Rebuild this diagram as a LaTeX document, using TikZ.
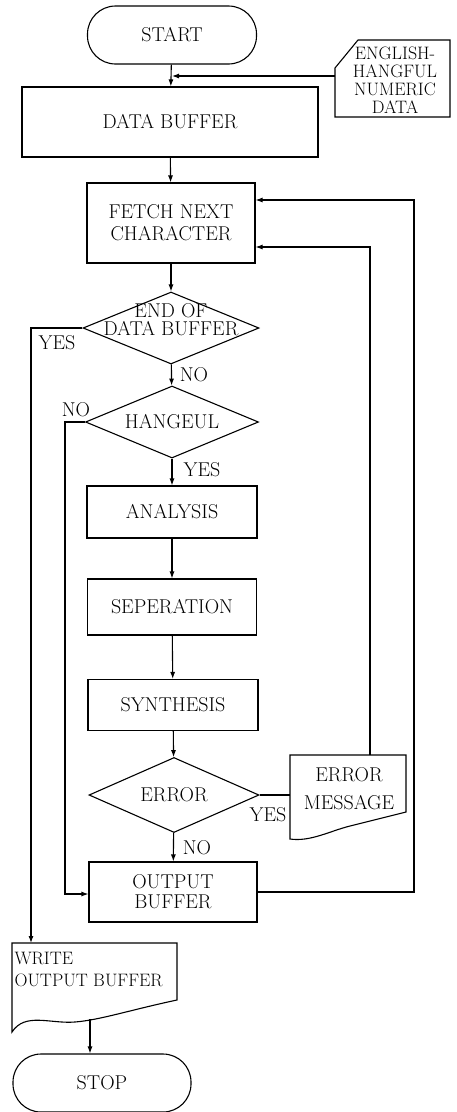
\documentclass[tikz,border=0pt]{standalone}
\usepackage{tikz}
\usetikzlibrary{shapes.geometric, arrows.meta}

\tikzset{
    procbox/.style={draw, rectangle, align=center, inner sep=0pt},
    termbox/.style={draw, rectangle, rounded corners=28pt, minimum width=#1, minimum height=58pt},
    decide/.style={draw, diamond, aspect=2.4, inner sep=0pt, minimum width=#1, minimum height=72pt},
    lbl/.style={inner sep=0pt}
}

\begin{document}
\begin{tikzpicture}[x=1pt, y=-1pt, >={Latex[length=7pt,width=5pt]}, line width=1.1pt, font=\fontsize{20}{22}\selectfont]
        \useasboundingbox (0,0) rectangle (456,1112);

        % main column
        \node [termbox=169pt] (start) at (172,35) {START};
        \node [procbox, minimum width=296pt, minimum height=70pt] (databuf) at (170,122) {DATA BUFFER};
        \node [procbox, minimum width=168pt, minimum height=80pt] (fetch) at (171,223) {FETCH NEXT\\CHARACTER};
        \node [decide=176pt] (eod) at (171,328) {};
        \node [lbl, align=center, font=\fontsize{20}{18}\selectfont] (eodtext) at (171,320) {END OF\\DATA BUFFER};
        \node [decide=173pt] (hangeul) at (172,422) {HANGEUL};
        \node [procbox, minimum width=170pt, minimum height=52pt] (analysis) at (172,512) {ANALYSIS};
        \node [procbox, minimum width=169pt, minimum height=56pt] (seperation) at (172,607) {SEPERATION};
        \node [procbox, minimum width=170pt, minimum height=51pt] (synthesis) at (173,705) {SYNTHESIS};
        \node [decide=170pt, minimum height=75pt] (error) at (174,795) {ERROR};
        \node [procbox, minimum width=168pt, minimum height=60pt, font=\fontsize{20}{20}\selectfont] (output) at (173,892) {OUTPUT\\BUFFER};
        \node [termbox=178pt] (stop) at (102,1083) {STOP};

        % input card
        \draw (358,40) -- (450,40) -- (450,117) -- (335,117) -- (335,68) -- cycle;
        \node [lbl, align=center, font=\fontsize{18}{18}\selectfont] (card) at (395,80) {ENGLISH-\\HANGFUL\\NUMERIC\\DATA};
        \coordinate (cardin) at (335,76);

        % error message document
        \draw (290,755) -- (406,755) -- (406,812)
            .. controls (390,816) and (370,821) .. (350,826)
            .. controls (330,831) and (310,842) .. (290,839) -- cycle;
        \node [lbl, align=center, font=\fontsize{20}{28}\selectfont] (errmsg) at (349,789) {ERROR\\MESSAGE};
        \coordinate (errin) at (290,795);
        \coordinate (errtop) at (370,755);

        % write output document
        \draw (12,943) -- (177,943) -- (177,1000)
            .. controls (130,1010) and (100,1020) .. (75,1022)
            .. controls (50,1024) and (25,1012) .. (12,1032) -- cycle;
        \node [lbl, align=left, anchor=north west, font=\fontsize{18}{22}\selectfont] (write) at (14,952) {WRITE\\OUTPUT BUFFER};
        \coordinate (writetop) at (31,943);
        \coordinate (wout) at (90,1019);

        % flow
        \draw [->] (start) -- (databuf);
        \draw [->] (cardin) -- (cardin -| start.south);
        \draw [->] (databuf) -- (fetch);
        \draw [->] (fetch) -- (eod);
        \draw [->] (eod) -- (hangeul);
        \draw [->] (hangeul) -- (analysis);
        \draw [->] (analysis) -- (seperation);
        \draw [->] (seperation) -- (synthesis);
        \draw [->] (synthesis) -- (error);
        \draw [->] (error) -- (output);
        \draw (error.east) -- (errin);
        \draw [->] (wout) -- (wout |- stop.north);

        % side branches
        \draw [->] (eod.west) -| (writetop);
        \coordinate (noa) at (65,894);
        \draw [->] (hangeul.west) -| (noa) -- (noa -| output.west);
        \coordinate (loopa) at (414,200);
        \draw [->] (output.east) -| (loopa) -- (loopa -| fetch.east);
        \coordinate (loopb) at (370,247);
        \draw [->] (errtop) -- (loopb) -- (loopb -| fetch.east);

        % branch labels
        \node [lbl] (yes1) at (57,343) {YES};
        \node [lbl] (no1) at (194,375) {NO};
        \node [lbl] (no2) at (76,410) {NO};
        \node [lbl] (yes2) at (202,470) {YES};
        \node [lbl] (yes3) at (268,815) {YES};
        \node [lbl] (no3) at (197,848) {NO};
    \end{tikzpicture}
\end{document}
